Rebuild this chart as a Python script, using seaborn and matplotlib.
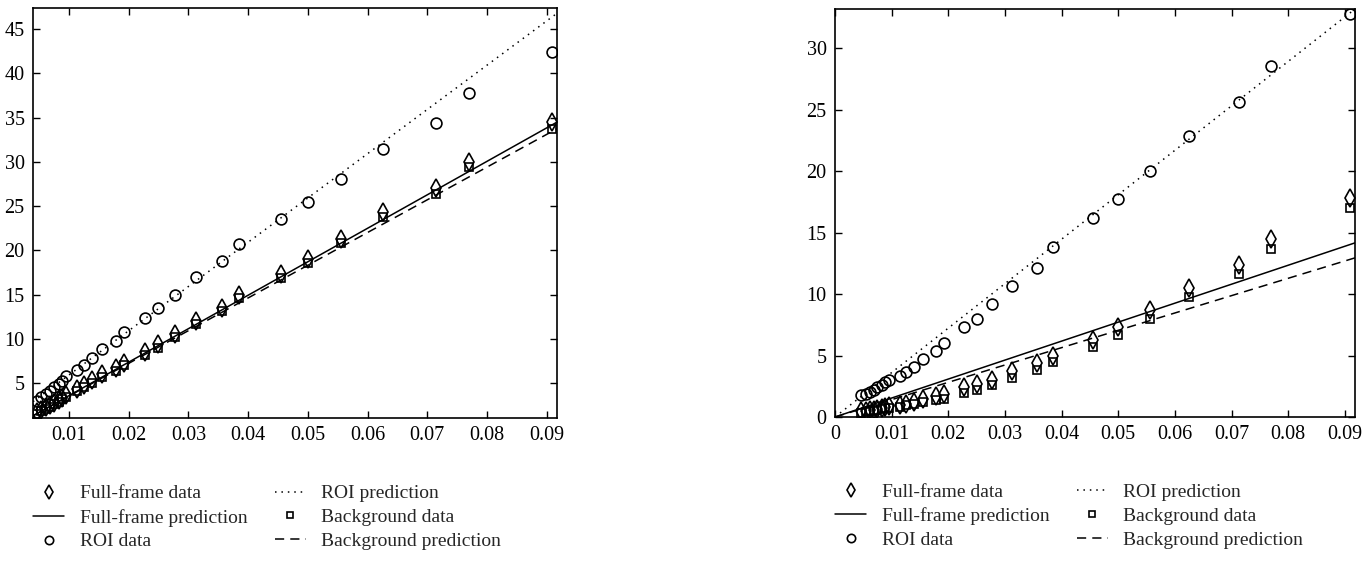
import numpy as np
import matplotlib
matplotlib.use("Agg")
import matplotlib.pyplot as plt
from matplotlib.lines import Line2D
import seaborn as sns

sns.set_style("ticks")
plt.rcParams["font.family"] = ["Liberation Serif", "DejaVu Serif"]
plt.rcParams["mathtext.fontset"] = "stix"

# ---------------- data ----------------
x_vals = [0.0046, 0.0054, 0.0061, 0.0068, 0.0075, 0.0083, 0.0089, 0.0096,
          0.0114, 0.0125, 0.0139, 0.0156, 0.0179, 0.0192, 0.0227, 0.0250,
          0.0278, 0.03125, 0.0357, 0.0385, 0.0455, 0.0500, 0.0556, 0.0625,
          0.0714, 0.0769, 0.0909]

# left panel
left_full = [1.7, 2.0, 2.3, 2.55, 2.8, 3.1, 3.35, 3.6, 4.3, 4.75, 5.3, 6.0, 6.7,
             7.3, 8.5, 9.4, 10.5, 12.0, 13.5, 15.0, 17.3, 19.0, 21.3, 24.3,
             27.0, 30.0, 34.5]
left_bg = [1.5, 1.8, 2.1, 2.35, 2.6, 2.9, 3.15, 3.4, 4.1, 4.55, 5.05, 5.7, 6.4,
           7.0, 8.2, 9.0, 10.2, 11.7, 13.1, 14.6, 16.9, 18.6, 20.8, 23.8,
           26.4, 29.4, 33.7]
left_roi = [3.0, 3.4, 3.8, 4.1, 4.5, 4.9, 5.2, 5.8, 6.5, 7.0, 7.8, 8.8, 9.8,
            10.8, 12.3, 13.5, 15.0, 17.0, 18.8, 20.7, 23.5, 25.5, 28.1, 31.5,
            34.4, 37.8, 42.4]
left_pred_x = [0.004, 0.0917]
left_full_pred = [1.3, 34.5]
left_bg_pred = [1.3, 33.75]
left_roi_pred = [2.9, 46.8]

# right panel
right_full = [0.45, 0.5, 0.55, 0.6, 0.65, 0.72, 0.8, 0.87, 0.95, 1.09, 1.22,
              1.47, 1.68, 1.9, 2.44, 2.7, 3.04, 3.75, 4.4, 5.0, 6.3, 7.3, 8.7,
              10.5, 12.4, 14.5, 17.8]
right_bg = [0.35, 0.4, 0.45, 0.5, 0.56, 0.62, 0.7, 0.75, 0.85, 0.95, 1.05,
            1.25, 1.41, 1.5, 1.95, 2.17, 2.58, 3.18, 3.8, 4.48, 5.7, 6.65, 8.0,
            9.8, 11.6, 13.7, 17.0]
right_roi = [1.75, 1.9, 2.0, 2.2, 2.45, 2.6, 2.85, 3.0, 3.3, 3.65, 4.1, 4.7,
             5.4, 6.0, 7.3, 8.0, 9.2, 10.7, 12.1, 13.8, 16.2, 17.7, 20.0, 22.9,
             25.6, 28.6, 32.8]
right_pred_x = [0.0, 0.0918]
right_full_pred = [0.0, 14.17]
right_bg_pred = [0.0, 12.95]
right_roi_pred = [0.0, 33.2]

left_xticks = [0.01, 0.02, 0.03, 0.04, 0.05, 0.06, 0.07, 0.08, 0.09]
left_yticks = [5, 10, 15, 20, 25, 30, 35, 40, 45]
right_xticks = [0, 0.01, 0.02, 0.03, 0.04, 0.05, 0.06, 0.07, 0.08, 0.09]
right_xlabels = ["0", "0.01", "0.02", "0.03", "0.04", "0.05", "0.06", "0.07", "0.08", "0.09"]
right_yticks = [0, 5, 10, 15, 20, 25, 30]

labels = ["Full-frame data", "Full-frame prediction", "ROI data",
          "ROI prediction", "Background data", "Background prediction"]

# ---------------- figure ----------------
fig = plt.figure(figsize=(13.72, 5.61), dpi=100)
axL = fig.add_axes([33 / 1372, 1 - 418 / 561, 524 / 1372, 410 / 561])
axR = fig.add_axes([835 / 1372, 1 - 417 / 561, 520 / 1372, 408 / 561])

DOT = (0, (1, 3.2))
DASH = (0, (6, 4))
LW = 1.1


def draw(ax, full, bg, roi, px, fpred, bpred, rpred):
    sns.lineplot(x=px, y=rpred, ax=ax, color="black", lw=LW, linestyle=DOT)
    sns.lineplot(x=px, y=fpred, ax=ax, color="black", lw=LW, linestyle="-")
    sns.lineplot(x=px, y=bpred, ax=ax, color="black", lw=LW, linestyle=DASH)
    sns.lineplot(x=x_vals, y=roi, ax=ax, linestyle="none", marker="o",
                 markersize=7.8, markerfacecolor="none", markeredgecolor="black",
                 markeredgewidth=1.2, color="black")
    sns.lineplot(x=x_vals, y=bg, ax=ax, linestyle="none", marker="s",
                 markersize=5.6, markerfacecolor="none", markeredgecolor="black",
                 markeredgewidth=1.2, color="black")
    sns.lineplot(x=x_vals, y=full, ax=ax, linestyle="none", marker="d",
                 markersize=8.8, markerfacecolor="none", markeredgecolor="black",
                 markeredgewidth=1.2, color="black")
    for s in ax.spines.values():
        s.set_visible(True)
        s.set_linewidth(1.2)
        s.set_color("black")
    ax.tick_params(direction="in", top=True, right=True, length=5, width=1.0,
                   labelsize=14.5, colors="black", pad=6)
    ax.set_xlabel("")
    ax.set_ylabel("")

    handles = [
        Line2D([], [], ls="none", marker="d", ms=7, mfc="none", mec="black", mew=1.2),
        Line2D([], [], ls="-", color="black", lw=LW),
        Line2D([], [], ls="none", marker="o", ms=6, mfc="none", mec="black", mew=1.2),
        Line2D([], [], ls=DOT, color="black", lw=LW),
        Line2D([], [], ls="none", marker="s", ms=5, mfc="none", mec="black", mew=1.2),
        Line2D([], [], ls=DASH, color="black", lw=LW),
    ]
    ax.legend(handles, labels, ncol=2, loc="upper left",
              bbox_to_anchor=(0.0, -0.163), frameon=False, fontsize=14,
              handlelength=1.6, handletextpad=0.8, columnspacing=1.4,
              labelspacing=0.32, borderpad=0, borderaxespad=0)


draw(axL, left_full, left_bg, left_roi, left_pred_x, left_full_pred, left_bg_pred, left_roi_pred)
axL.set_xlim(0.004, 0.0917)
axL.set_ylim(1.05, 47.4)
axL.set_xticks(left_xticks)
axL.set_xticklabels([f"{v:.2f}" for v in left_xticks])
axL.set_yticks(left_yticks)
axL.set_yticklabels([str(v) for v in left_yticks])

draw(axR, right_full, right_bg, right_roi, right_pred_x, right_full_pred, right_bg_pred, right_roi_pred)
axR.set_xlim(0.0, 0.0918)
axR.set_ylim(0.0, 33.2)
axR.set_xticks(right_xticks)
axR.set_xticklabels(right_xlabels)
axR.set_yticks(right_yticks)
axR.set_yticklabels([str(v) for v in right_yticks])

fig.savefig("out.png", dpi=100)
